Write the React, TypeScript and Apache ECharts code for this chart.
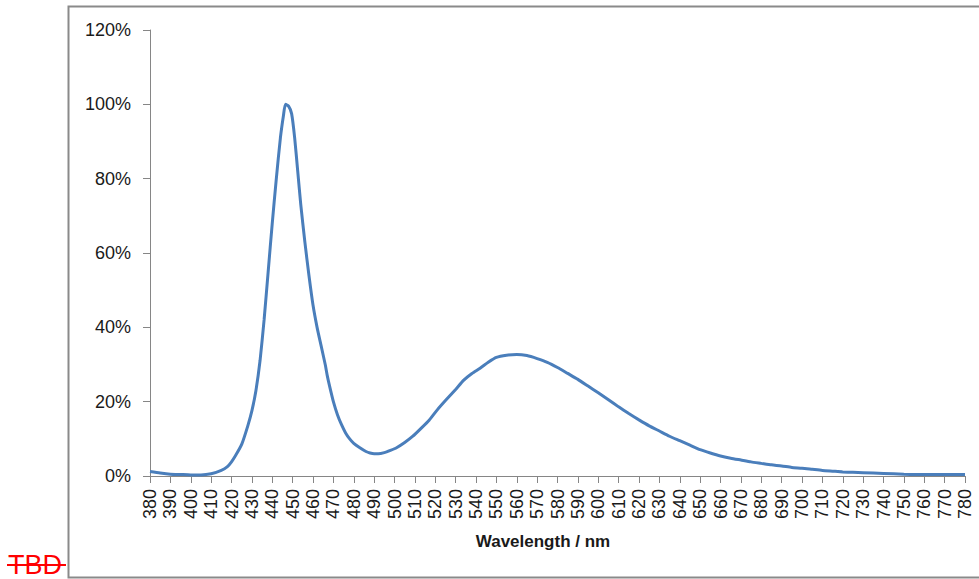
import React, { useEffect, useRef } from "react";
import * as echarts from "echarts";

const wavelengths = [
  380, 385, 390, 395, 400, 405, 410, 415, 418, 420, 422, 425, 428, 430, 432, 434, 436, 438, 440, 442, 444, 445.5,
  446.5, 448, 449.5, 451, 452.5, 454, 456, 458, 460, 462, 464, 466, 467, 468, 470, 472, 474, 476, 478, 480, 483,
  486, 488, 490, 492, 495, 498, 501, 505, 509, 513, 517, 521, 525, 530, 534, 538, 542, 546, 550, 555, 560, 565,
  570, 575, 580, 585, 590, 595, 600, 605, 610, 615, 620, 625, 630, 635, 640, 645, 650, 655, 660, 665, 670, 675,
  680, 685, 690, 695, 700, 705, 710, 715, 720, 725, 730, 740, 750, 760, 770, 780,
];
const intensity = [
  1.2, 0.8, 0.5, 0.4, 0.3, 0.3, 0.6, 1.5, 2.5, 3.8, 5.5, 8.5, 13.5, 17.5, 23, 31, 42, 55, 68, 80, 91, 97,
  100, 99.5, 97.5, 91, 82, 73, 63, 54, 46, 40, 35, 30, 27, 24.5, 20, 16.5, 13.8, 11.6, 10, 8.8, 7.6,
  6.6, 6.2, 6.0, 6.0, 6.3, 6.9, 7.6, 9, 10.7, 12.8, 15, 17.8, 20.3, 23.3, 25.8, 27.6, 29, 30.6, 31.9, 32.5, 32.7, 32.4,
  31.6, 30.6, 29.2, 27.6, 26, 24.2, 22.4, 20.5, 18.6, 16.8, 15.1, 13.5, 12.1, 10.7, 9.5, 8.3, 7.1, 6.2, 5.4, 4.8, 4.3, 3.8,
  3.4, 3.0, 2.7, 2.3, 2.1, 1.8, 1.5, 1.3, 1.1, 1.0, 0.9, 0.7, 0.5, 0.4, 0.4, 0.4,
];
const xAxisTitle = "Wavelength / nm";
const stampText = "TBD";

export default function App() {
  const ref = useRef<HTMLDivElement>(null);
  useEffect(() => {
    if (!ref.current) return;
    const chart = echarts.init(ref.current, undefined, { renderer: "svg" });
    const font = "'Liberation Sans', Arial, sans-serif";
    chart.setOption({
      animation: false,
      backgroundColor: "#ffffff",
      grid: { left: 150, right: 14, top: 30, bottom: 103, containLabel: false },
      xAxis: {
        type: "value",
        min: 380,
        max: 780,
        interval: 10,
        splitLine: { show: false },
        axisLine: { lineStyle: { color: "#868686", width: 1 } },
        axisTick: { length: 7, lineStyle: { color: "#868686" } },
        axisLabel: {
          rotate: 90,
          margin: 13,
          fontFamily: font,
          fontSize: 18,
          color: "#1a1a1a",
        },
      },
      yAxis: {
        type: "value",
        min: 0,
        max: 120,
        interval: 20,
        splitLine: { show: false },
        axisLine: { show: true, lineStyle: { color: "#868686", width: 1 } },
        axisTick: { show: true, length: 7, lineStyle: { color: "#868686" } },
        axisLabel: {
          margin: 19,
          fontFamily: font,
          fontSize: 18,
          color: "#1a1a1a",
          formatter: "{value}%",
        },
      },
      series: [
        {
          type: "line",
          data: wavelengths.map((w, i) => [w, intensity[i]]),
          showSymbol: false,
          smooth: 0.2,
          lineStyle: { color: "#4a7ebb", width: 3 },
          itemStyle: { color: "#4a7ebb" },
        },
      ],
      graphic: [
        {
          type: "rect",
          silent: true,
          shape: { x: 68.5, y: 6.5, width: 1000, height: 571 },
          style: { fill: "none", stroke: "#8a8a8a", lineWidth: 2 },
          z: -1,
        },
        {
          type: "text",
          x: 543,
          y: 541,
          style: {
            text: xAxisTitle,
            fontFamily: font,
            fontSize: 17,
            fontWeight: "bold",
            fill: "#1a1a1a",
            align: "center",
            verticalAlign: "middle",
          },
        },
        {
          type: "text",
          x: 8,
          y: 565,
          style: {
            text: stampText,
            fontFamily: font,
            fontSize: 27,
            fill: "#ff0000",
            align: "left",
            verticalAlign: "middle",
          },
        },
        {
          type: "line",
          shape: { x1: 7, y1: 565, x2: 66, y2: 565 },
          style: { stroke: "#ff0000", lineWidth: 2 },
        },
      ],
    });
    return () => chart.dispose();
  }, []);
  return (
    <div
      ref={ref}
      style={{ position: "absolute", left: 0, top: 0, width: 979, height: 579 }}
    />
  );
}
